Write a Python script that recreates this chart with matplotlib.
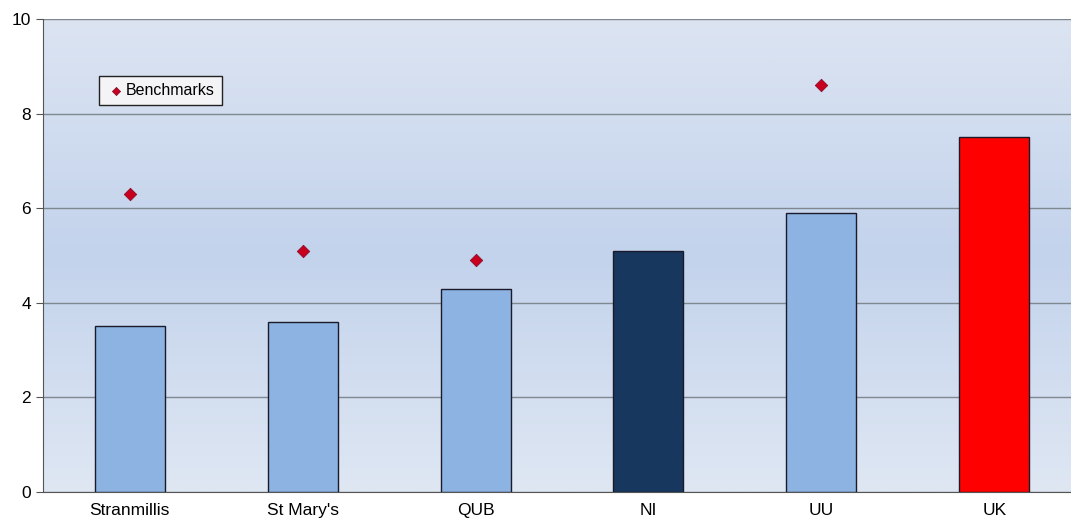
import matplotlib.pyplot as plt
import numpy as np
from matplotlib.colors import LinearSegmentedColormap

# data
categories = ['Stranmillis', "St Mary's", 'QUB', 'NI', 'UU', 'UK']
values = [3.5, 3.6, 4.3, 5.1, 5.9, 7.5]
benchmarks = [6.3, 5.1, 4.9, np.nan, 8.6, np.nan]
bar_colors = ['#8db3e2', '#8db3e2', '#8db3e2', '#17375e', '#8db3e2', '#ff0000']

plt.rcParams['font.family'] = ['Liberation Sans', 'DejaVu Sans']

fig = plt.figure(figsize=(10.71, 5.21), dpi=100)
ax = fig.add_axes([0.0405, 0.0557, 0.9685, 0.9078])

# gradient background: light top and bottom, bluer in the middle
cmap = LinearSegmentedColormap.from_list('bg', ['#dfe7f3', '#c3d3ec', '#dce4f2'])
grad = np.linspace(0, 1, 256).reshape(-1, 1)
ax.imshow(grad, aspect='auto', cmap=cmap, extent=[-0.5, 5.5, 10, 0],
          zorder=0, origin='upper')

x = np.arange(len(categories))
ax.bar(x, values, width=0.405, color=bar_colors, edgecolor='#1a1a2a',
       linewidth=1.0, zorder=3)
ax.scatter(x, benchmarks, marker='D', s=40, color='#c8001e',
           edgecolors='#8a1030', linewidths=0.6, zorder=4, label='Benchmarks')

ax.set_xlim(-0.5, 5.5)
ax.set_ylim(0, 10)
ax.set_yticks([0, 2, 4, 6, 8, 10])
ax.set_xticks(x)
ax.set_xticklabels(categories, fontsize=12.5)
ax.tick_params(axis='y', labelsize=12.5, length=5, color='#555555', pad=4)
ax.tick_params(axis='x', length=0, pad=8)

ax.yaxis.grid(True, color='#7f8790', linewidth=1.0, zorder=1)
ax.set_axisbelow(True)
for side in ['top', 'right']:
    ax.spines[side].set_visible(False)
ax.spines['left'].set_color('#555555')
ax.spines['bottom'].set_color('#555555')

leg = ax.legend(loc='upper left', bbox_to_anchor=(0.054, 0.88), fontsize=11.5,
                frameon=True, fancybox=False, handletextpad=0.0,
                borderpad=0.45, markerscale=0.65, handlelength=1.2,
                borderaxespad=0)
leg.get_frame().set_edgecolor('#222222')
leg.get_frame().set_facecolor('#f4f4f6')
leg.get_frame().set_alpha(1)

fig.savefig('out.png', dpi=100)
